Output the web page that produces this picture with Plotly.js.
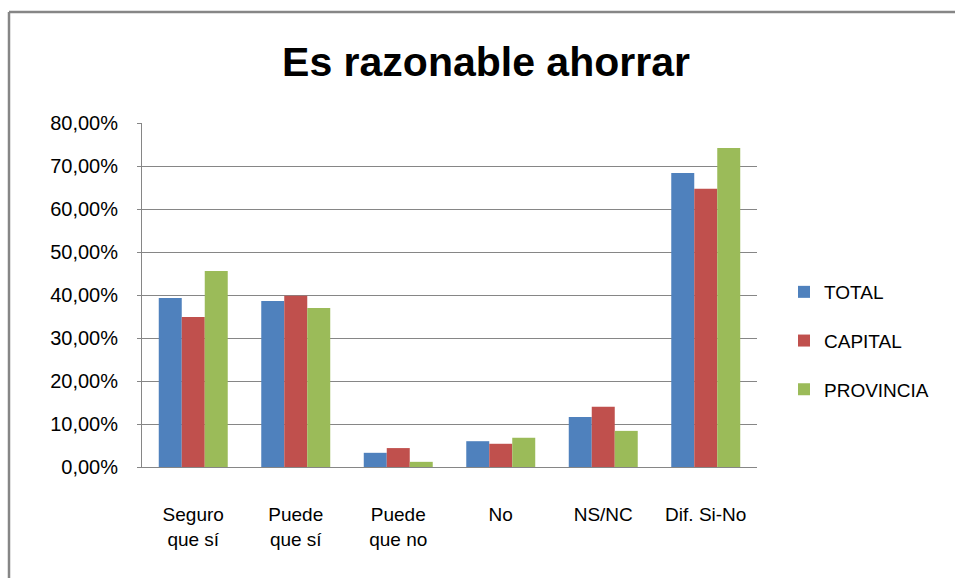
<!DOCTYPE html>
<html>
<head>
<meta charset="utf-8">
<script src="https://cdn.plot.ly/plotly-3.0.1.min.js"></script>
<style>html,body{margin:0;padding:0;background:#fff;}#chart{width:955px;height:578px;}</style>
</head>
<body>
<div id="chart"></div>
<script>
const categories = ["Seguro<br>que sí", "Puede<br>que sí", "Puede<br>que no", "No", "NS/NC", "Dif. Si-No"];
const seriesNames = ["TOTAL", "CAPITAL", "PROVINCIA"];
const total = [39.3, 38.6, 3.3, 6.0, 11.6, 68.4];
const capital = [34.9, 39.8, 4.4, 5.4, 14.0, 64.7];
const provincia = [45.6, 37.0, 1.2, 6.8, 8.4, 74.2];
const yTicks = [0, 10, 20, 30, 40, 50, 60, 70, 80];
const yTickLabels = ["0,00%", "10,00%", "20,00%", "30,00%", "40,00%", "50,00%", "60,00%", "70,00%", "80,00%"];

const colors = ["#4F81BD", "#C0504D", "#9BBB59"];
const seriesValues = [total, capital, provincia];
const FONT = "'Liberation Sans', Arial, sans-serif";

const traces = seriesValues.map((vals, i) => ({
  type: "bar",
  name: seriesNames[i],
  x: categories,
  y: vals,
  marker: {color: colors[i], line: {width: 0}},
  legendgroup: "g" + i,
  hoverinfo: "skip"
}));

const L = 142, R = 757, T = 123, B = 467;
const W = R - L, H = B - T;
const px = x => (x - L) / W;
const py = y => (B - y) / H;

const layout = {
  width: 955, height: 578,
  margin: {l: L, r: 955 - R, t: T, b: 578 - B, pad: 0},
  paper_bgcolor: "#ffffff",
  plot_bgcolor: "#ffffff",
  barmode: "group",
  bargap: 0.327,
  bargroupgap: 0,
  font: {family: FONT, size: 19, color: "#000000"},
  title: {
    text: "<b>Es razonable ahorrar</b>",
    font: {family: FONT, size: 41, color: "#000000"},
    x: px(486), xanchor: "center", xref: "paper",
    y: 1 - 62 / 578, yref: "container", yanchor: "middle"
  },
  xaxis: {
    type: "category",
    showgrid: false,
    showline: true, linecolor: "#868686", linewidth: 1,
    ticks: "", tickfont: {family: FONT, size: 19, color: "#000000"},
    ticklabelstandoff: 30,
    fixedrange: true
  },
  yaxis: {
    range: [0, 80],
    tickvals: yTicks,
    ticktext: yTickLabels,
    showgrid: true, gridcolor: "#868686", gridwidth: 1,
    showline: true, linecolor: "#868686", linewidth: 1,
    zeroline: false,
    ticks: "outside", ticklen: 4, tickcolor: "#868686",
    ticklabelstandoff: 15,
    tickfont: {family: FONT, size: 20, color: "#000000"},
    fixedrange: true
  },
  showlegend: true,
  legend: {
    x: px(784), xanchor: "left",
    y: py(273), yanchor: "top",
    font: {family: FONT, size: 19, color: "#000000"},
    tracegroupgap: 21,
    itemwidth: 30,
    bgcolor: "rgba(0,0,0,0)"
  },
  shapes: [
    {type: "line", xref: "paper", yref: "paper", x0: px(9), x1: px(960), y0: py(12), y1: py(12), line: {color: "#868686", width: 2.5}},
    {type: "line", xref: "paper", yref: "paper", x0: px(9), x1: px(9), y0: py(12), y1: py(590), line: {color: "#868686", width: 2.5}}
  ]
};

Plotly.newPlot("chart", traces, layout, {displayModeBar: false, staticPlot: true});
</script>
</body>
</html>
